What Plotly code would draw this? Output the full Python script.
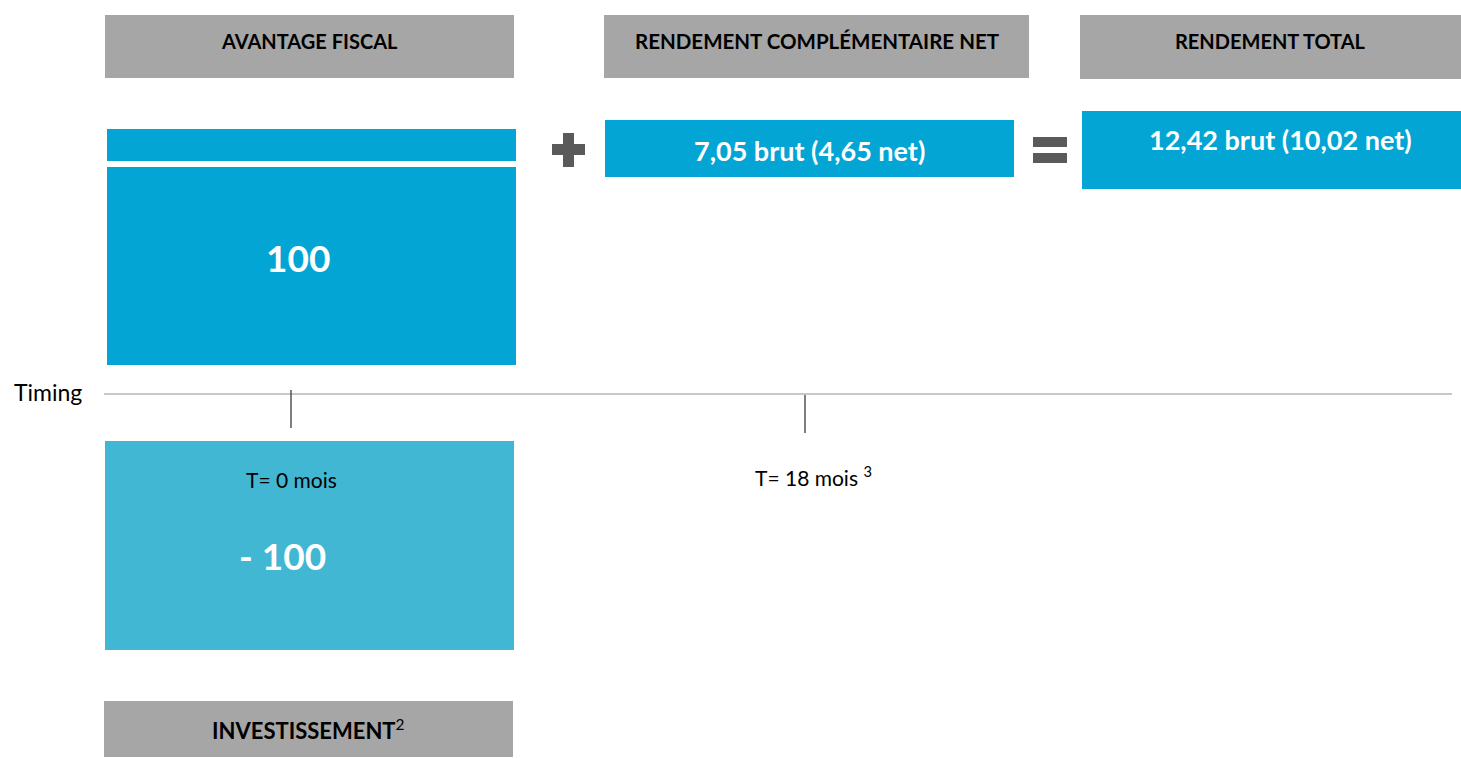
import plotly.graph_objects as go

# ---- data ----
header_labels = ["AVANTAGE FISCAL", "RENDEMENT COMPLÉMENTAIRE NET", "RENDEMENT TOTAL"]
bottom_label = "INVESTISSEMENT"
bottom_note = "2"
avantage_fiscal = 100
investissement = -100
complement_brut = 7.05
complement_net = 4.65
total_brut = 12.42
total_net = 10.02
timing_months = [0, 18]
timing_notes = ["", "3"]
axis_label = "Timing"

def fr(v):
    return f"{v:.2f}".replace(".", ",")

BLUE = "#03a5d4"
BLUE2 = "#42b7d3"
GREY = "#a6a6a6"
DARK = "#5a5a5a"
FONT = "Lato"

fig = go.Figure()
shapes = []
ann = []

def rect(x0, y0, x1, y1, color):
    shapes.append(dict(type="rect", xref="x", yref="y", x0=x0, y0=y0, x1=x1, y1=y1,
                       fillcolor=color, line=dict(width=0), layer="below"))

def text(x, y, s, size, color="black", bold=False, xanchor="center"):
    if bold:
        s = f"<b>{s}</b>"
    ann.append(dict(x=x, y=y, xref="x", yref="y", text=s, showarrow=False,
                    font=dict(family=FONT, size=size, color=color),
                    xanchor=xanchor, yanchor="middle"))

# header boxes
hdr_boxes = [(105, 15, 514, 78), (604, 15, 1029, 78), (1080, 15, 1461, 79)]
hdr_sizes = [20, 20.5, 20]
for (x0, y0, x1, y1), lab, fs in zip(hdr_boxes, header_labels, hdr_sizes):
    rect(x0, y0, x1, y1, GREY)
    text((x0 + x1) / 2, 41, lab, fs, bold=True)

# avantage fiscal boxes
rect(107, 129, 516, 161, BLUE)
rect(107, 167, 516, 365, BLUE)
text(298, 257, str(avantage_fiscal), 37, "white", True)

# plus sign
rect(563, 133, 574, 167, DARK)
rect(552, 144, 585, 155, DARK)

# complement box
rect(605, 120, 1014, 177, BLUE)
text(809, 150, f"{fr(complement_brut)} brut ({fr(complement_net)} net)", 27, "white", True)

# equals sign
rect(1033, 137, 1067, 147, DARK)
rect(1033, 153, 1067, 163, DARK)

# total box
rect(1082, 111, 1461, 189, BLUE)
text(1280, 139, f"{fr(total_brut)} brut ({fr(total_net)} net)", 27, "white", True)

# timing axis
shapes.append(dict(type="line", xref="x", yref="y", x0=104, x1=1452, y0=394, y1=394,
                   line=dict(color="#c8c8c8", width=2)))
text(12, 392, axis_label, 23, xanchor="left")

tick_x0, tick_x18 = 291, 805
def tx(m):
    return tick_x0 + m * (tick_x18 - tick_x0) / 18

tick_y = [(390, 428), (395, 433)]
for m, (y0, y1) in zip(timing_months, tick_y):
    shapes.append(dict(type="line", xref="x", yref="y", x0=tx(m), x1=tx(m), y0=y0, y1=y1,
                       line=dict(color="#555555", width=1.5)))

# investissement box
rect(105, 441, 514, 650, BLUE2)
text(tx(timing_months[0]), 479, f"T= {timing_months[0]} mois", 21)
text(282, 555, f"- {abs(investissement)}", 37, "white", True)
text(tx(timing_months[1]) + 8, 476,
     f"T= {timing_months[1]} mois <sup>{timing_notes[1]}</sup>", 21)

# bottom grey box
rect(104, 701, 513, 757, GREY)
text(308, 729, f"<b>{bottom_label}</b><sup>{bottom_note}</sup>", 22)

fig.update_layout(
    width=1461, height=758,
    margin=dict(l=0, r=0, t=0, b=0),
    paper_bgcolor="white", plot_bgcolor="white",
    xaxis=dict(range=[0, 1461], visible=False, fixedrange=True),
    yaxis=dict(range=[758, 0], visible=False, fixedrange=True),
    shapes=shapes, annotations=ann, showlegend=False,
)
fig.write_html(
    "out.html",
    config={"displayModeBar": False},
    post_script="document.body.style.margin='0';document.body.style.overflow='hidden';",
)
